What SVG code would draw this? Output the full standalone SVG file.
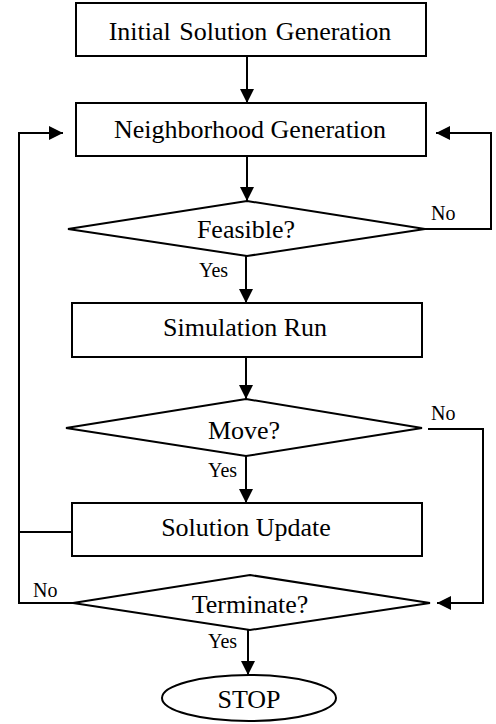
<svg xmlns="http://www.w3.org/2000/svg" width="496" height="724" viewBox="0 0 496 724">
<style>
.shape{fill:#fff;stroke:#000;stroke-width:2}
.line{fill:none;stroke:#000;stroke-width:2}
.t{font-family:"Liberation Serif","Times New Roman",serif;font-size:26px;fill:#000;text-anchor:middle}
.s{font-family:"Liberation Serif","Times New Roman",serif;font-size:20px;fill:#000}
</style>
<defs>
<marker id="ah" markerWidth="14" markerHeight="14" viewBox="0 0 14 14" refX="14" refY="7" orient="auto" markerUnits="userSpaceOnUse">
<path d="M0,0 L14,7 L0,14 Z" fill="#000"/>
</marker>
</defs>
<g id="connectors">
<line class="line" x1="247" y1="56" x2="247" y2="103" marker-end="url(#ah)"/>
<line class="line" x1="247" y1="156" x2="247" y2="201" marker-end="url(#ah)"/>
<polyline class="line" points="425,229 491,229 491,133 436,133" marker-end="url(#ah)"/>
<line class="line" x1="246" y1="256" x2="246" y2="303" marker-end="url(#ah)"/>
<line class="line" x1="246" y1="357" x2="246" y2="399" marker-end="url(#ah)"/>
<polyline class="line" points="428,429 483,429 483,603 437,603" marker-end="url(#ah)"/>
<line class="line" x1="246" y1="456" x2="246" y2="503" marker-end="url(#ah)"/>
<polyline class="line" points="72,532 19,532"/>
<polyline class="line" points="73,603 19,603 19,133 63,133" marker-end="url(#ah)"/>
<line class="line" x1="248" y1="630" x2="248" y2="675" marker-end="url(#ah)"/>
<text class="s" x="431" y="220">No</text>
<text class="s" x="199" y="277">Yes</text>
<text class="s" x="431" y="420">No</text>
<text class="s" x="208" y="477">Yes</text>
<text class="s" x="33" y="597">No</text>
<text class="s" x="208" y="648">Yes</text>
</g>
<g id="init">
<rect class="shape" x="76" y="3" width="350" height="53"/>
<text class="t" x="250" y="40" word-spacing="2">Initial Solution Generation</text>
</g>
<g id="neighborhood">
<rect class="shape" x="76" y="103" width="350" height="53"/>
<text class="t" x="250" y="138">Neighborhood Generation</text>
</g>
<g id="feasible">
<polygon class="shape" points="247,201 425,229 247,256 68,229"/>
<text class="t" x="246" y="238">Feasible?</text>
</g>
<g id="simulation">
<rect class="shape" x="72" y="303" width="350" height="54"/>
<text class="t" x="245" y="336">Simulation Run</text>
</g>
<g id="move">
<polygon class="shape" points="246,399 422,428 246,456 66,428"/>
<text class="t" x="244" y="439">Move?</text>
</g>
<g id="update">
<rect class="shape" x="72" y="503" width="350" height="53"/>
<text class="t" x="246" y="536">Solution Update</text>
</g>
<g id="terminate">
<polygon class="shape" points="250,575 430,603 250,630 73,603"/>
<text class="t" x="250" y="613">Terminate?</text>
</g>
<g id="stop">
<ellipse class="shape" cx="249" cy="698" rx="87" ry="23"/>
<text class="t" x="249" y="708">STOP</text>
</g>
</svg>
